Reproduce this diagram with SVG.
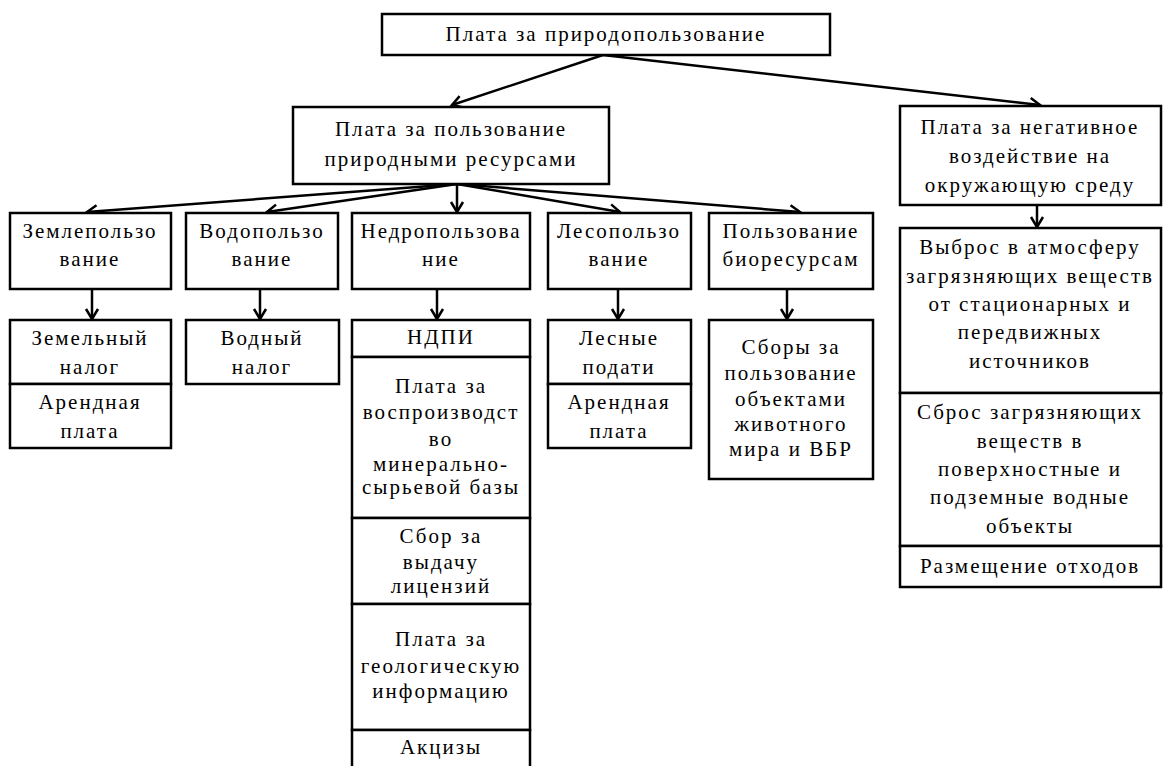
<svg xmlns="http://www.w3.org/2000/svg" width="1163" height="766" viewBox="0 0 1163 766">
<style>
.b{fill:#fff;stroke:#000;stroke-width:2.5}
.t{font-family:'Liberation Serif','Times New Roman',serif;font-size:21px;letter-spacing:2px;text-anchor:middle;fill:#000}
.c{fill:none;stroke:#000;stroke-width:2.5}
</style>
<defs>
<marker id="ar" markerUnits="userSpaceOnUse" markerWidth="16" markerHeight="16" refX="13" refY="8" orient="auto">
<path d="M3,2 L13,8 L3,14" fill="none" stroke="#000" stroke-width="2.5"/>
</marker>
</defs>
<rect width="1163" height="766" fill="#fff"/>
<g id="connectors">
<path class="c" d="M603,55 L452,105" marker-end="url(#ar)"/>
<path class="c" d="M603,55 L1040,105" marker-end="url(#ar)"/>
<path class="c" d="M457,184 L87,212" marker-end="url(#ar)"/>
<path class="c" d="M457,184 L267,212" marker-end="url(#ar)"/>
<path class="c" d="M457,184 L457,212" marker-end="url(#ar)"/>
<path class="c" d="M457,184 L620,212" marker-end="url(#ar)"/>
<path class="c" d="M457,184 L800,212" marker-end="url(#ar)"/>
<path class="c" d="M92,289 L92,319" marker-end="url(#ar)"/>
<path class="c" d="M260,289 L260,319" marker-end="url(#ar)"/>
<path class="c" d="M437,289 L437,319" marker-end="url(#ar)"/>
<path class="c" d="M618,289 L618,319" marker-end="url(#ar)"/>
<path class="c" d="M787,289 L787,319" marker-end="url(#ar)"/>
<path class="c" d="M1037,205 L1037,227" marker-end="url(#ar)"/>
</g>
<g id="root">
<rect class="b" x="382" y="14" width="448" height="41"/>
<text class="t" x="606" y="41" font-family="Liberation Serif">Плата за природопользование</text>
</g>
<g id="resources">
<rect class="b" x="293" y="107" width="316" height="77"/>
<text class="t" x="451" y="136">Плата за пользование</text>
<text class="t" x="451" y="166">природными ресурсами</text>
</g>
<g id="negative">
<rect class="b" x="900" y="106" width="261" height="99"/>
<text class="t" x="1030" y="134">Плата за негативное</text>
<text class="t" x="1030" y="163">воздействие на</text>
<text class="t" x="1030" y="192">окружающую среду</text>
</g>
<g id="land">
<rect class="b" x="10" y="213" width="161" height="76"/>
<text class="t" x="90" y="238">Землепользо</text>
<text class="t" x="90" y="266">вание</text>
</g>
<g id="water">
<rect class="b" x="186" y="213" width="152" height="76"/>
<text class="t" x="262" y="238">Водопользо</text>
<text class="t" x="262" y="266">вание</text>
</g>
<g id="subsoil">
<rect class="b" x="352" y="213" width="178" height="76"/>
<text class="t" x="441" y="238">Недропользова</text>
<text class="t" x="441" y="266">ние</text>
</g>
<g id="forest">
<rect class="b" x="548" y="213" width="143" height="76"/>
<text class="t" x="619" y="238">Лесопользо</text>
<text class="t" x="619" y="266">вание</text>
</g>
<g id="bio">
<rect class="b" x="709" y="213" width="164" height="76"/>
<text class="t" x="791" y="238">Пользование</text>
<text class="t" x="791" y="266">биоресурсам</text>
</g>
<g id="land-pay">
<rect class="b" x="10" y="320" width="161" height="64"/>
<text class="t" x="90" y="345">Земельный</text>
<text class="t" x="90" y="374">налог</text>
<rect class="b" x="10" y="384" width="161" height="64"/>
<text class="t" x="90" y="409">Арендная</text>
<text class="t" x="90" y="438">плата</text>
</g>
<g id="water-pay">
<rect class="b" x="186" y="320" width="153" height="64"/>
<text class="t" x="262" y="345">Водный</text>
<text class="t" x="262" y="374">налог</text>
</g>
<g id="subsoil-pay">
<rect class="b" x="352" y="320" width="178" height="37"/>
<text class="t" x="441" y="344">НДПИ</text>
<rect class="b" x="352" y="357" width="178" height="161"/>
<text class="t" x="441" y="393">Плата за</text>
<text class="t" x="441" y="419">воспроизводст</text>
<text class="t" x="441" y="446">во</text>
<text class="t" x="441" y="471">минерально-</text>
<text class="t" x="441" y="494">сырьевой базы</text>
<rect class="b" x="352" y="518" width="178" height="86"/>
<text class="t" x="441" y="543">Сбор за</text>
<text class="t" x="441" y="569">выдачу</text>
<text class="t" x="441" y="593">лицензий</text>
<rect class="b" x="352" y="604" width="178" height="126"/>
<text class="t" x="441" y="646">Плата за</text>
<text class="t" x="441" y="673">геологическую</text>
<text class="t" x="441" y="698">информацию</text>
<rect class="b" x="352" y="730" width="178" height="45"/>
<text class="t" x="441" y="754">Акцизы</text>
</g>
<g id="forest-pay">
<rect class="b" x="548" y="320" width="143" height="64"/>
<text class="t" x="619" y="345">Лесные</text>
<text class="t" x="619" y="374">подати</text>
<rect class="b" x="548" y="384" width="143" height="64"/>
<text class="t" x="619" y="409">Арендная</text>
<text class="t" x="619" y="438">плата</text>
</g>
<g id="bio-pay">
<rect class="b" x="709" y="320" width="164" height="159"/>
<text class="t" x="791" y="354">Сборы за</text>
<text class="t" x="791" y="380">пользование</text>
<text class="t" x="791" y="406">объектами</text>
<text class="t" x="791" y="431">животного</text>
<text class="t" x="791" y="456">мира и ВБР</text>
</g>
<g id="negative-pay">
<rect class="b" x="900" y="228" width="261" height="165"/>
<text class="t" x="1030" y="254">Выброс в атмосферу</text>
<text class="t" x="1030" y="283">загрязняющих веществ</text>
<text class="t" x="1030" y="311">от стационарных и</text>
<text class="t" x="1030" y="339">передвижных</text>
<text class="t" x="1030" y="368">источников</text>
<rect class="b" x="900" y="393" width="261" height="153"/>
<text class="t" x="1030" y="419">Сброс загрязняющих</text>
<text class="t" x="1030" y="448">веществ в</text>
<text class="t" x="1030" y="476">поверхностные и</text>
<text class="t" x="1030" y="504">подземные водные</text>
<text class="t" x="1030" y="533">объекты</text>
<rect class="b" x="900" y="546" width="261" height="41"/>
<text class="t" x="1030" y="573">Размещение отходов</text>
</g>
</svg>
